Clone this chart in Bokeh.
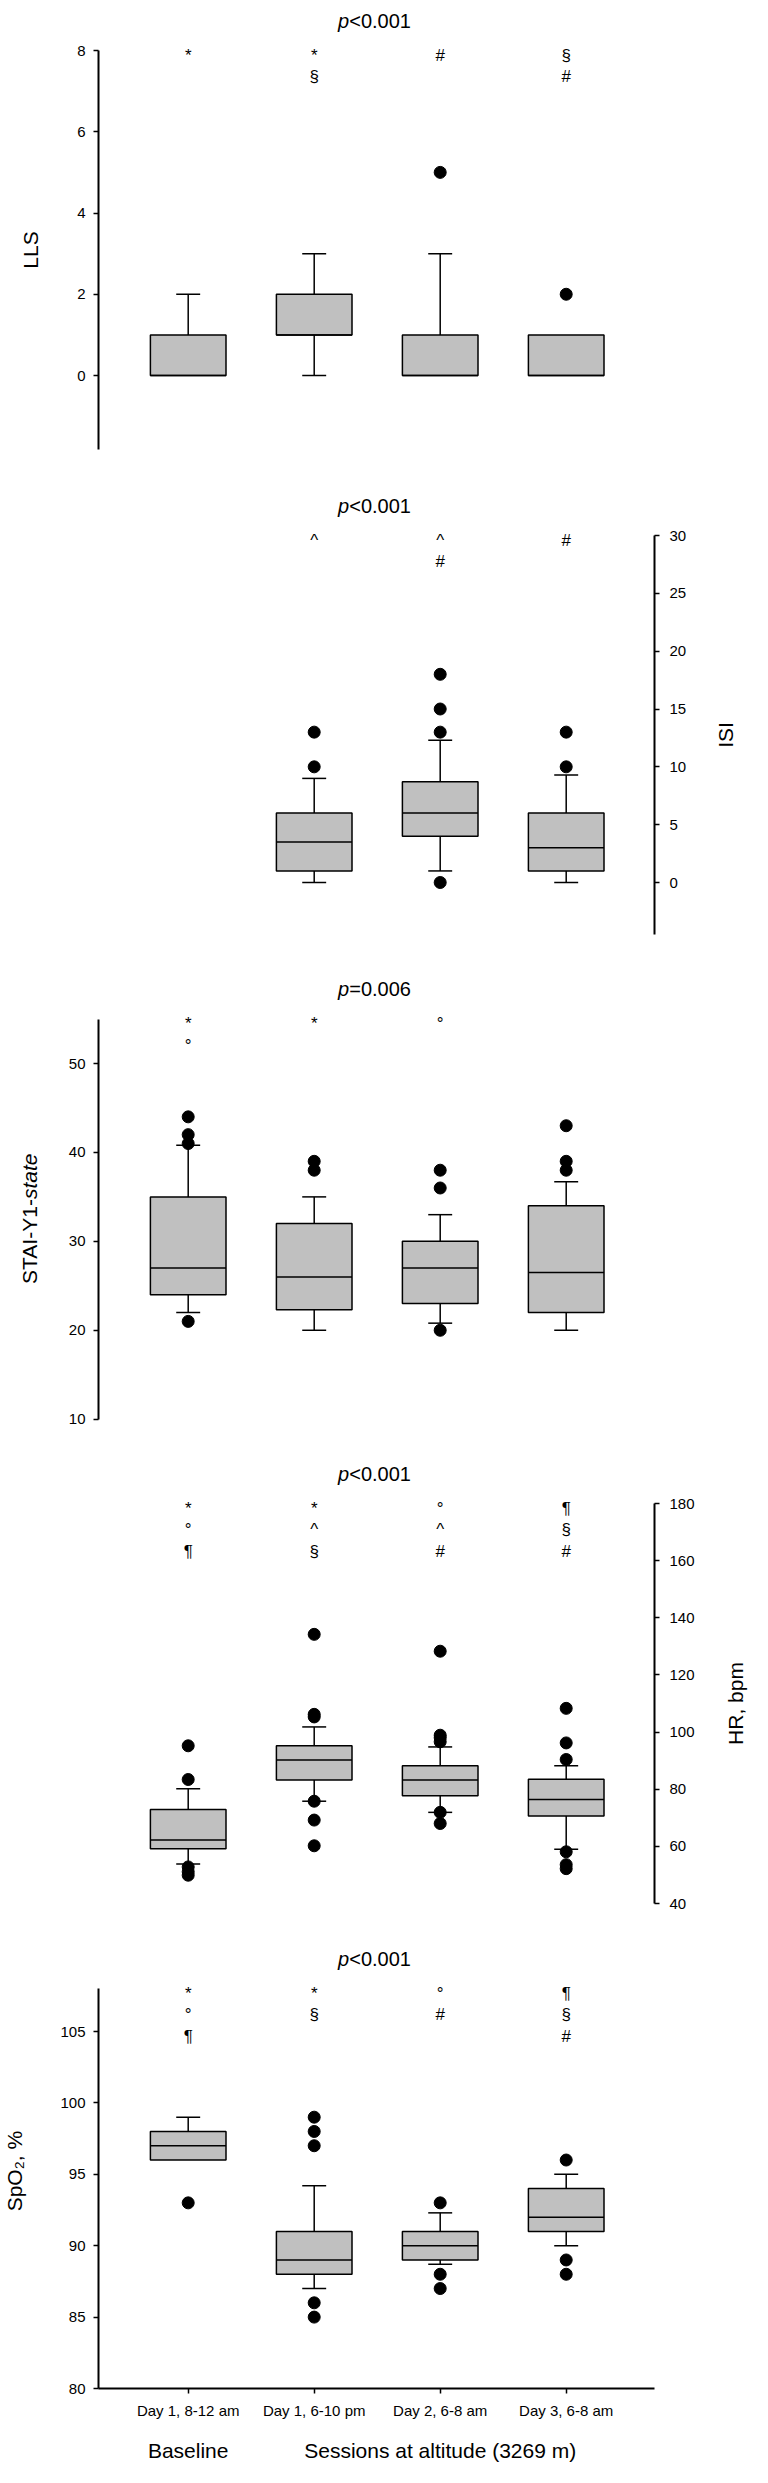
import math
from bokeh.plotting import figure
from bokeh.layouts import column, row
from bokeh.models import Range1d, FixedTicker, Label
from bokeh.core.properties import value
from bokeh.embed import file_html
from bokeh.resources import INLINE

FONT = "Liberation Sans"

# ---------------- data ----------------
sessions = ["Day 1, 8-12 am", "Day 1, 6-10 pm", "Day 2, 6-8 am", "Day 3, 6-8 am"]
group_labels = ["Baseline", "Sessions at altitude (3269 m)"]
p_values = ["<0.001", "<0.001", "=0.006", "<0.001", "<0.001"]

# LLS
lls_q1 = [0, 1, 0, 0]
lls_med = [0, 1, 0, 0]
lls_q3 = [1, 2, 1, 1]
lls_lo = [0, 0, 0, 0]
lls_hi = [2, 3, 3, 1]
lls_out = [[], [], [5], [2]]
lls_marks = [["*"], ["*", "§"], ["#"], ["§", "#"]]
lls_ticks = [0, 2, 4, 6, 8]

# ISI (no baseline measurement)
isi_q1 = [None, 1, 4, 1]
isi_med = [None, 3.5, 6, 3]
isi_q3 = [None, 6, 8.7, 6]
isi_lo = [None, 0, 1, 0]
isi_hi = [None, 9, 12.3, 9.3]
isi_out = [[], [13, 10], [18, 15, 13, 0], [13, 10]]
isi_marks = [[], ["^"], ["^", "#"], ["#"]]
isi_ticks = [0, 5, 10, 15, 20, 25, 30]

# STAI-Y1-state
stai_q1 = [24, 22.3, 23, 22]
stai_med = [27, 26, 27, 26.5]
stai_q3 = [35, 32, 30, 34]
stai_lo = [22, 20, 20.8, 20]
stai_hi = [40.8, 35, 33, 36.7]
stai_out = [[44, 42, 41, 21], [39, 38], [38, 36, 20], [43, 39, 38]]
stai_marks = [["*", "°"], ["*"], ["°"], []]
stai_ticks = [10, 20, 30, 40, 50]

# HR, bpm
hr_q1 = [59.2, 83.2, 77.7, 70.6]
hr_med = [62.2, 90.2, 83.2, 76.4]
hr_q3 = [72.9, 95.2, 88.2, 83.5]
hr_lo = [53.8, 75.8, 71.9, 59.0]
hr_hi = [80.2, 101.8, 94.8, 88.2]
hr_out = [[95.2, 83.4, 52.8, 51.1, 49.9],
          [134.2, 106.2, 105.3, 75.8, 69.2, 60.2],
          [128.3, 98.9, 98.0, 96.6, 71.9, 68.0],
          [108.3, 96.2, 90.4, 58.1, 53.6, 52.2]]
hr_marks = [["*", "°", "¶"], ["*", "^", "§"], ["°", "^", "#"], ["¶", "§", "#"]]
hr_ticks = [40, 60, 80, 100, 120, 140, 160, 180]

# SpO2, %
spo2_q1 = [96, 88, 89, 91]
spo2_med = [97, 89, 90, 92]
spo2_q3 = [98, 91, 91, 94]
spo2_lo = [96, 87, 88.7, 90]
spo2_hi = [99, 94.2, 92.3, 95]
spo2_out = [[93], [99, 98, 97, 86, 85], [93, 88, 87], [96, 89, 88]]
spo2_marks = [["*", "°", "¶"], ["*", "§"], ["°", "#"], ["¶", "§", "#"]]
spo2_ticks = [80, 85, 90, 95, 100, 105]

# ---------------- layout / style (page pixels) ----------------
PAGE_L, PAGE_W = 8, 752
X_MID_PX, X_MID_VAL, PX_PER_CAT = 384.7, 2.5, 126.0
FRAME_L_PX, FRAME_R_PX = 106, 662
LABEL_W_L, LABEL_W_R = 55, 50
BOX_W, CAP_W = 0.6, 0.19
BOX_FILL = "#c0c0c0"
LW = 1.5
AXIS_LW = 2
ROW0, ROW_STEP = 4.5, 21.5
TITLE_ABOVE = 30
TITLE_SPLIT = -28
SPLIT_SHIFT = -20
BOTTOM_H = 45
GROUP_MID_PX = 2458

panels = [
    dict(top=8, h=480, frame_h=480, ref=(8, 58, 0, 383), bounds=(-1.82, 8), side="left", label_x=38),
    dict(top=488, h=485, frame_h=485, ref=(30, 543, 0, 890), bounds=(-4.5, 30), side="right", label_x=733),
    dict(top=973, h=480, frame_h=480, ref=(50, 1071, 10, 1426.7), bounds=(10, 55), side="left", label_x=37),
    dict(top=1453, h=495, frame_h=495, ref=(180, 1511, 40, 1911), bounds=(40, 180), side="right", label_x=743),
    dict(top=1948, h=482, frame_h=448, ref=(105, 2039, 80, 2396), bounds=(80, 108), side="left", label_x=22),
]


def x_at(px):
    return X_MID_VAL + (px - X_MID_PX) / PX_PER_CAT


def plain_fig(x0, w, top, h):
    f = figure(width=w, height=h, x_range=Range1d(x0, x0 + w), y_range=Range1d(top + h, top),
               output_backend="svg", toolbar_location=None,
               x_axis_location=None, y_axis_location=None,
               min_border_left=0, min_border_right=0, min_border_top=0, min_border_bottom=0,
               outline_line_color=None, background_fill_color="white", border_fill_color="white")
    f.grid.visible = False
    return f


def style_axis(ax, standoff):
    ax.minor_tick_line_color = None
    ax.major_tick_in = 0
    ax.major_tick_out = 5
    ax.major_label_standoff = standoff
    ax.major_label_text_font = FONT
    ax.major_label_text_font_size = "15px"
    ax.major_label_text_color = "black"
    ax.axis_line_width = AXIS_LW
    ax.axis_line_color = "black"
    ax.major_tick_line_width = LW
    ax.major_tick_line_color = "black"


def build(spec, q1, med, q3, lo, hi, outs, marks, ticks, pval, ylabel_parts, bottom=False):
    top, h, fh = spec["top"], spec["h"], spec["frame_h"]
    v1, p1, v2, p2 = spec["ref"]
    p1 -= top
    p2 -= top
    ppu = (p2 - p1) / (v1 - v2)
    y_end = v1 + p1 / ppu
    y_start = v1 - (fh - p1) / ppu

    def y_at(page_px):
        return v1 - (page_px - top - p1) / ppu

    lo_b, hi_b = spec["bounds"]
    ax_top = top + p1 + (v1 - hi_b) * ppu
    ax_bot = top + p1 + (v1 - lo_b) * ppu

    left = spec["side"] == "left"
    if left:
        main_x0 = PAGE_L + LABEL_W_L
        main_w = PAGE_W - LABEL_W_L
    else:
        main_x0 = PAGE_L
        main_w = PAGE_W - LABEL_W_R
    mb_left = FRAME_L_PX - main_x0
    mb_right = main_x0 + main_w - FRAME_R_PX

    p = figure(width=main_w, height=h,
               x_range=Range1d(x_at(FRAME_L_PX), x_at(FRAME_R_PX)),
               y_range=Range1d(y_start, y_end),
               output_backend="svg", toolbar_location=None,
               x_axis_location="below" if bottom else None,
               y_axis_location=spec["side"],
               min_border_left=mb_left, min_border_right=mb_right,
               min_border_top=0, min_border_bottom=h - fh,
               outline_line_color=None, background_fill_color="white",
               border_fill_color="white")
    p.grid.visible = False

    ax = p.yaxis[0]
    ax.bounds = (lo_b, hi_b)
    ax.ticker = FixedTicker(ticks=ticks)
    style_axis(ax, 8 if left else 10)

    if bottom:
        xa = p.xaxis[0]
        xa.ticker = FixedTicker(ticks=[i + 1 for i in range(len(sessions))])
        xa.major_label_overrides = {i + 1: s for i, s in enumerate(sessions)}
        style_axis(xa, 8)

    # whiskers, boxes, medians, outliers
    idx = [i for i in range(len(q1)) if q1[i] is not None]
    xs = [i + 1 for i in idx]
    wx0, wy0, wx1, wy1 = [], [], [], []
    for i in idx:
        x = i + 1
        if hi[i] > q3[i]:
            wx0 += [x, x - CAP_W / 2]; wx1 += [x, x + CAP_W / 2]
            wy0 += [q3[i], hi[i]]; wy1 += [hi[i], hi[i]]
        if lo[i] < q1[i]:
            wx0 += [x, x - CAP_W / 2]; wx1 += [x, x + CAP_W / 2]
            wy0 += [q1[i], lo[i]]; wy1 += [lo[i], lo[i]]
    p.segment(x0=wx0, y0=wy0, x1=wx1, y1=wy1, line_color="black", line_width=LW)
    p.vbar(x=xs, width=BOX_W, bottom=[q1[i] for i in idx], top=[q3[i] for i in idx],
           fill_color=BOX_FILL, line_color="black", line_width=LW)
    p.segment(x0=[x - BOX_W / 2 for x in xs], x1=[x + BOX_W / 2 for x in xs],
              y0=[med[i] for i in idx], y1=[med[i] for i in idx],
              line_color="black", line_width=LW)
    ox, oy = [], []
    for i, vals in enumerate(outs):
        for v in vals:
            ox.append(i + 1)
            oy.append(v)
    p.scatter(x=ox, y=oy, size=12, fill_color="black", line_color="black")

    # significance marks
    mx, my, mt = [], [], []
    for i, ms in enumerate(marks):
        for k, s in enumerate(ms):
            mx.append(i + 1)
            my.append(y_at(ax_top + ROW0 + ROW_STEP * k))
            mt.append(s)
    p.text(x=mx, y=my, text=mt, text_align="center", text_baseline="alphabetic",
           text_font=value(FONT), text_font_size="17px", text_color="black")

    # p-value title
    ty = y_at(ax_top - TITLE_ABOVE)
    p.add_layout(Label(x=X_MID_VAL, y=ty, x_offset=TITLE_SPLIT, text="p", text_font=FONT,
                       text_font_style="italic", text_font_size="20px", text_align="right",
                       text_baseline="alphabetic", text_color="black"))
    p.add_layout(Label(x=X_MID_VAL, y=ty, x_offset=TITLE_SPLIT, text=pval, text_font=FONT,
                       text_font_size="20px", text_align="left",
                       text_baseline="alphabetic", text_color="black"))

    # y-axis title in its own strip
    if left:
        lf = plain_fig(PAGE_L, LABEL_W_L, top, h)
    else:
        lf = plain_fig(PAGE_L + PAGE_W - LABEL_W_R, LABEL_W_R, top, h)
    cy = (ax_top + ax_bot) / 2
    lx = spec["label_x"]
    if len(ylabel_parts) == 1:
        lf.text(x=[lx], y=[cy], text=[ylabel_parts[0][0]], angle=math.pi / 2,
                text_font=value(FONT), text_font_size="21px", text_font_style=ylabel_parts[0][1],
                text_align="center", text_baseline="middle", text_color="black")
    else:
        sy = cy + SPLIT_SHIFT
        lf.text(x=[lx], y=[sy], text=[ylabel_parts[0][0]], angle=math.pi / 2,
                text_font=value(FONT), text_font_size="21px", text_font_style=ylabel_parts[0][1],
                text_align="right", text_baseline="middle", text_color="black")
        lf.text(x=[lx], y=[sy], text=[ylabel_parts[1][0]], angle=math.pi / 2,
                text_font=value(FONT), text_font_size="21px", text_font_style=ylabel_parts[1][1],
                text_align="left", text_baseline="middle", text_color="black")

    return row(lf, p, spacing=0) if left else row(p, lf, spacing=0)


rows = [
    build(panels[0], lls_q1, lls_med, lls_q3, lls_lo, lls_hi, lls_out, lls_marks, lls_ticks,
          p_values[0], [("LLS", "normal")]),
    build(panels[1], isi_q1, isi_med, isi_q3, isi_lo, isi_hi, isi_out, isi_marks, isi_ticks,
          p_values[1], [("ISI", "normal")]),
    build(panels[2], stai_q1, stai_med, stai_q3, stai_lo, stai_hi, stai_out, stai_marks, stai_ticks,
          p_values[2], [("STAI-Y1-", "normal"), ("state", "italic")]),
    build(panels[3], hr_q1, hr_med, hr_q3, hr_lo, hr_hi, hr_out, hr_marks, hr_ticks,
          p_values[3], [("HR, bpm", "normal")]),
    build(panels[4], spo2_q1, spo2_med, spo2_q3, spo2_lo, spo2_hi, spo2_out, spo2_marks, spo2_ticks,
          p_values[4], [("SpO₂, %", "normal")], bottom=True),
]

# group captions under the x axis, on the same x scale as the panels
bt = panels[4]["top"] + panels[4]["h"]
bf = figure(width=PAGE_W, height=BOTTOM_H,
            x_range=Range1d(x_at(FRAME_L_PX), x_at(FRAME_R_PX)),
            y_range=Range1d(bt + BOTTOM_H, bt),
            output_backend="svg", toolbar_location=None,
            x_axis_location=None, y_axis_location=None,
            min_border_left=FRAME_L_PX - PAGE_L, min_border_right=PAGE_L + PAGE_W - FRAME_R_PX,
            min_border_top=0, min_border_bottom=0,
            outline_line_color=None, background_fill_color="white", border_fill_color="white")
bf.grid.visible = False
alt_x = sum(range(2, len(sessions) + 1)) / (len(sessions) - 1)
bf.text(x=[1, alt_x], y=[GROUP_MID_PX, GROUP_MID_PX], text=group_labels,
        text_align="center", text_baseline="middle",
        text_font=value(FONT), text_font_size="21px", text_color="black")

layout = column(*rows, bf, spacing=0)
open("out.html", "w").write(file_html(layout, INLINE))
